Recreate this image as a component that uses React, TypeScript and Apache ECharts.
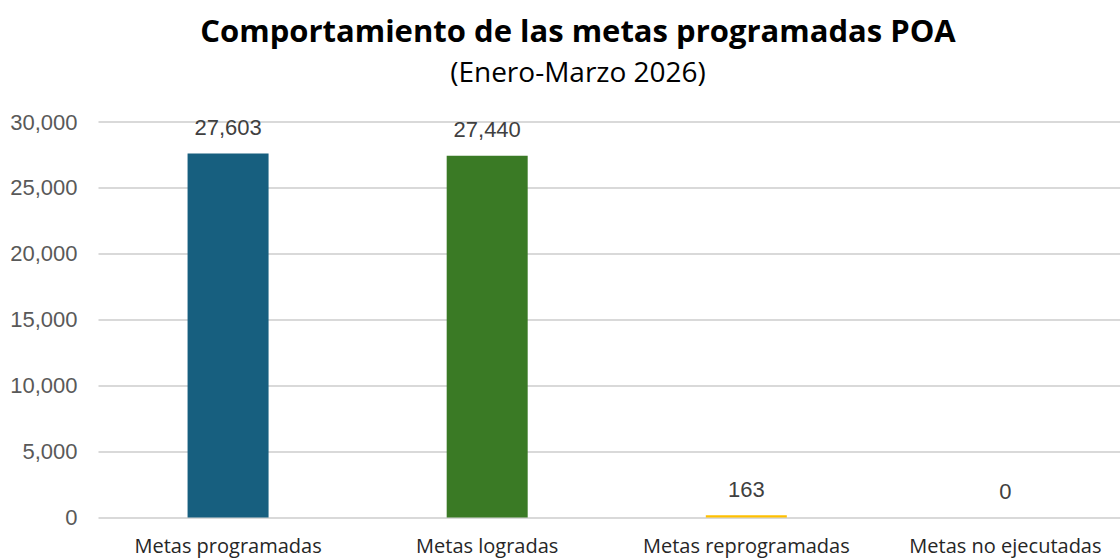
import React, { useEffect, useRef } from "react";
import * as echarts from "echarts";

const categories = ["Metas programadas", "Metas logradas", "Metas reprogramadas", "Metas no ejecutadas"];
const values = [27603, 27440, 163, 0];
const barColors = ["#175F7F", "#3A7A25", "#FFC000", "#A5A5A5"];
const titleText = "Comportamiento de las metas programadas POA";
const subtitleText = "(Enero-Marzo 2026)";

export default function App() {
  const ref = useRef<HTMLDivElement>(null);
  useEffect(() => {
    if (!ref.current) return;
    const chart = echarts.init(ref.current, null, { renderer: "svg" });
    chart.setOption({
      animation: false,
      backgroundColor: "#ffffff",
      graphic: [
        {
          type: "text",
          x: 578,
          y: 30,
          style: {
            text: titleText,
            textAlign: "center",
            textVerticalAlign: "middle",
            font: "bold 31px 'Open Sans'",
            fill: "#000000",
          },
        },
        {
          type: "text",
          x: 578,
          y: 71,
          style: {
            text: subtitleText,
            textAlign: "center",
            textVerticalAlign: "middle",
            font: "28px 'Open Sans'",
            fill: "#000000",
          },
        },
      ],
      grid: { left: 98.5, right: 0, top: 122, height: 395.5, containLabel: false },
      xAxis: {
        type: "category",
        data: categories,
        axisLine: { show: false },
        axisTick: { show: false },
        axisLabel: {
          margin: 18,
          fontFamily: "'Open Sans'",
          fontSize: 20,
          color: "#262626",
          interval: 0,
        },
      },
      yAxis: {
        type: "value",
        min: 0,
        max: 30000,
        interval: 5000,
        axisLine: { show: false },
        axisTick: { show: false },
        splitLine: { lineStyle: { color: "#D9D9D9", width: 2 } },
        axisLabel: {
          margin: 21,
          fontFamily: "'Liberation Sans', Arial",
          fontSize: 22,
          color: "#595959",
          formatter: (v: number) => v.toLocaleString("en-US"),
        },
      },
      series: [
        {
          type: "bar",
          barWidth: 81,
          data: values.map((v, i) => ({ value: v, itemStyle: { color: barColors[i] } })),
          label: {
            show: true,
            position: "top",
            distance: 15,
            fontFamily: "'Liberation Sans', Arial",
            fontSize: 22,
            color: "#404040",
            formatter: (p: any) => Number(p.value).toLocaleString("en-US"),
          },
        },
      ],
    });
    return () => chart.dispose();
  }, []);
  return (
    <div
      ref={ref}
      style={{ position: "fixed", left: 0, top: 0, width: 1134.5, height: 559, background: "#fff" }}
    />
  );
}
